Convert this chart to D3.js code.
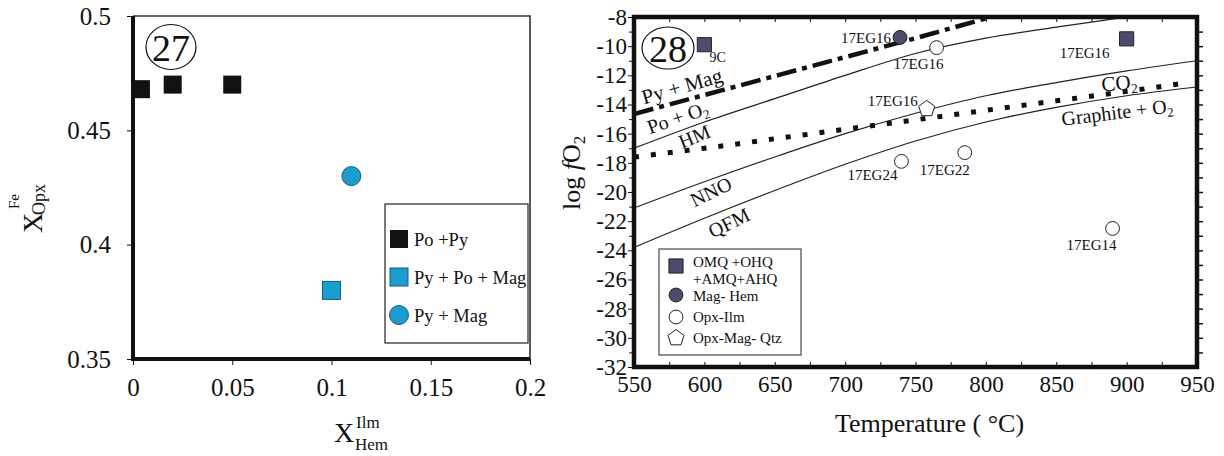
<!DOCTYPE html>
<html>
<head>
<meta charset="utf-8">
<script src="https://cdn.jsdelivr.net/npm/d3@7"></script>
<style>
body { margin: 0; background: #fff; }
</style>
</head>
<body>
<svg id="chart" width="1224" height="456"></svg>
<script>
/* ---- panel 27 data ---- */
var LEFT_X_TICKS = [0, 0.05, 0.1, 0.15, 0.2];
var LEFT_Y_TICKS = [0.35, 0.4, 0.45, 0.5];
var POPY_X = [0.004, 0.02, 0.05];
var POPY_Y = [0.468, 0.47, 0.47];
var PYPOMAG_X = [0.1];
var PYPOMAG_Y = [0.38];
var PYMAG_X = [0.11];
var PYMAG_Y = [0.43];
var LEFT_LEGEND = ["Po +Py", "Py + Po + Mag", "Py + Mag"];

/* ---- panel 28 data ---- */
var TEMP_TICKS = [550, 600, 650, 700, 750, 800, 850, 900, 950];
var LOGF_TICKS = [-32, -30, -28, -26, -24, -22, -20, -18, -16, -14, -12, -10, -8];
var BUFFER_T = [550, 600, 650, 700, 750, 800, 850, 900, 950];
var HM_LOG = [-17.0, -15.2, -13.6, -12.0, -10.5, -9.45, -8.7, -8.0, -7.3];
var NNO_LOG = [-21.1, -19.3, -17.6, -16.0, -14.6, -13.4, -12.5, -11.7, -11.0];
var QFM_LOG = [-23.8, -21.8, -19.9, -18.1, -16.5, -15.2, -14.2, -13.4, -12.8];
var GRAPHITE_T = [550, 600, 650, 700, 750, 800, 850, 900, 940];
var GRAPHITE_LOG = [-17.6, -17.0, -16.35, -15.7, -15.05, -14.4, -13.75, -13.1, -12.55];
var PYMAG_T = [550, 600, 650, 700, 750, 800, 850];
var PYMAG_LOG = [-14.65, -13.35, -12.05, -10.75, -9.45, -8.1, -6.8];

var SAMPLE_NAMES = ["9C", "17EG16", "17EG16", "17EG16", "17EG16", "17EG24", "17EG22", "17EG14"];
var SAMPLE_TYPES = ["omq", "omq", "maghem", "opxilm", "opxmagqtz", "opxilm", "opxilm", "opxilm"];
var SAMPLE_T = [600, 900, 739, 765, 758, 740, 785, 890];
var SAMPLE_LOG = [-9.9, -9.5, -9.4, -10.1, -14.3, -17.9, -17.3, -22.5];
var RIGHT_LEGEND = [["OMQ +OHQ", "+AMQ+AHQ"], ["Mag- Hem"], ["Opx-Ilm"], ["Opx-Mag- Qtz"]];

var SERIF = "Liberation Serif";
var CYAN = "#1b9dd0", CYAN_EDGE = "#1d5a78", SLATE = "#4c4c6c";

var svg = d3.select("#chart");

/* pentagon symbol, d3 has none */
var symbolPentagon = {
    draw: function(context, size){
        var r = Math.sqrt(size / 2.378);
        for (var i = 0; i < 5; i++){
            var a = -Math.PI/2 + i*2*Math.PI/5;
            if (i === 0) context.moveTo(r*Math.cos(a), r*Math.sin(a));
            else context.lineTo(r*Math.cos(a), r*Math.sin(a));
        }
        context.closePath();
    }
};

/* d3 axes put sans-serif on the group, take it off */
function serifTicks(sel, size){
    sel.attr("font-family", null).attr("font-size", null);
    sel.selectAll("text").style("font-family", SERIF).style("font-size", size + "px").attr("fill", "#111");
    sel.selectAll("line").attr("stroke", "#111");
}

function drawLeftPanel(){
    var x = d3.scaleLinear().domain([0, 0.2]).range([133, 530]);
    var y = d3.scaleLinear().domain([0.35, 0.5]).range([359, 16]);
    var g = svg.append("g");

    g.append("g")
        .attr("transform", "translate(0,359)")
        .call(d3.axisBottom(x).tickValues(LEFT_X_TICKS).tickSize(6).tickPadding(13).tickFormat(function(d){ return d + ""; }))
        .call(function(a){ a.select(".domain").remove(); })
        .call(serifTicks, 25);

    g.append("g")
        .attr("transform", "translate(133,0)")
        .call(d3.axisLeft(y).tickValues(LEFT_Y_TICKS).tickSize(6).tickPadding(16).tickFormat(function(d){ return d + ""; }))
        .call(function(a){ a.select(".domain").remove(); })
        .call(serifTicks, 25);

    /* frame: thin top/right, heavy left/bottom */
    g.append("path").attr("d", "M133,16H530V359").attr("fill", "none").attr("stroke", "#333").attr("stroke-width", 1.6);
    g.append("path").attr("d", "M133,16V361M131,359H530").attr("fill", "none").attr("stroke", "#111").attr("stroke-width", 4);

    /* panel number */
    g.append("ellipse").attr("cx", 171).attr("cy", 47).attr("rx", 25).attr("ry", 22.5)
        .attr("fill", "none").attr("stroke", "#111").attr("stroke-width", 1.2);
    g.append("text").attr("x", 171).attr("y", 61).attr("text-anchor", "middle")
        .style("font-size", "38px").text("27");

    /* markers */
    var popy = POPY_X.map(function(v, i){ return {x: v, y: POPY_Y[i]}; });
    g.selectAll(".popy").data(popy).enter().append("rect")
        .attr("x", function(d){ return x(d.x) - 9; })
        .attr("y", function(d){ return y(d.y) - 9; })
        .attr("width", 18).attr("height", 18).attr("fill", "#111");

    var pypomag = PYPOMAG_X.map(function(v, i){ return {x: v, y: PYPOMAG_Y[i]}; });
    g.selectAll(".pypomag").data(pypomag).enter().append("rect")
        .attr("x", function(d){ return x(d.x) - 9; })
        .attr("y", function(d){ return y(d.y) - 9; })
        .attr("width", 18).attr("height", 18)
        .attr("fill", CYAN).attr("stroke", CYAN_EDGE).attr("stroke-width", 1);

    var pymag = PYMAG_X.map(function(v, i){ return {x: v, y: PYMAG_Y[i]}; });
    g.selectAll(".pymag").data(pymag).enter().append("circle")
        .attr("cx", function(d){ return x(d.x); })
        .attr("cy", function(d){ return y(d.y); })
        .attr("r", 9.5)
        .attr("fill", CYAN).attr("stroke", CYAN_EDGE).attr("stroke-width", 1);

    /* legend */
    var lg = g.append("g");
    lg.append("rect").attr("x", 385).attr("y", 204).attr("width", 143).attr("height", 139)
        .attr("fill", "#fff").attr("stroke", "#333").attr("stroke-width", 1.3);
    LEFT_LEGEND.forEach(function(label, i){
        var cy = 239 + i*38;
        if (i < 2){
            lg.append("rect").attr("x", 390).attr("y", cy - 9).attr("width", 18).attr("height", 18)
                .attr("fill", i === 0 ? "#111" : CYAN)
                .attr("stroke", i === 0 ? "none" : CYAN_EDGE);
        } else {
            lg.append("circle").attr("cx", 399).attr("cy", cy).attr("r", 9.5)
                .attr("fill", CYAN).attr("stroke", CYAN_EDGE);
        }
        lg.append("text").attr("x", 414).attr("y", cy + 6.5)
            .style("font-size", "18.5px").text(label);
    });

    /* axis titles */
    var xt = g.append("text").attr("x", 334).attr("y", 442).style("font-size", "28px");
    xt.append("tspan").text("X");
    xt.append("tspan").attr("x", 356).attr("y", 428).style("font-size", "17px").text("Ilm");
    xt.append("tspan").attr("x", 355).attr("y", 450).style("font-size", "17px").text("Hem");

    var yt = g.append("text").attr("transform", "translate(42,233) rotate(-90)").style("font-size", "28px");
    yt.append("tspan").attr("x", 0).attr("y", 0).text("X");
    yt.append("tspan").attr("x", 24).attr("y", -23).style("font-size", "15px").text("Fe");
    yt.append("tspan").attr("x", 18).attr("y", 3).style("font-size", "18px").text("Opx");
}

function drawRightPanel(){
    var x = d3.scaleLinear().domain([550, 950]).range([634, 1197]);
    var y = d3.scaleLinear().domain([-32, -8]).range([367, 17]);
    var g = svg.append("g");

    g.append("clipPath").attr("id", "plotclip")
        .append("rect").attr("x", 634).attr("y", 17).attr("width", 563).attr("height", 350);

    /* left axis: labelled majors + minor ticks */
    g.append("g")
        .attr("transform", "translate(634,0)")
        .call(d3.axisLeft(y).tickValues(LOGF_TICKS).tickSize(6).tickPadding(1).tickFormat(function(d){ return d + ""; }))
        .call(function(a){ a.select(".domain").remove(); })
        .call(serifTicks, 23);
    g.append("g")
        .attr("transform", "translate(634,0)")
        .call(d3.axisLeft(y).tickValues(d3.range(-31, -8, 2)).tickSize(5).tickFormat(""))
        .call(function(a){ a.select(".domain").remove(); })
        .call(serifTicks, 23);

    /* right axis: outward ticks every unit */
    g.append("g")
        .attr("transform", "translate(1197,0)")
        .call(d3.axisRight(y).tickValues(d3.range(-31, -8, 1)).tickSize(6).tickFormat(""))
        .call(function(a){ a.select(".domain").remove(); })
        .call(serifTicks, 23)
        .selectAll("line").attr("stroke-width", 1.5);

    /* bottom / top: inward ticks every 25 */
    g.append("g")
        .attr("transform", "translate(0,367)")
        .call(d3.axisBottom(x).tickValues(d3.range(550, 951, 25)).tickSizeInner(-5).tickSizeOuter(0).tickPadding(9)
            .tickFormat(function(d){ return TEMP_TICKS.indexOf(d) >= 0 ? d : ""; }))
        .call(function(a){ a.select(".domain").remove(); })
        .call(serifTicks, 23);
    g.append("g")
        .attr("transform", "translate(0,17)")
        .call(d3.axisTop(x).tickValues(d3.range(575, 950, 25)).tickSizeInner(-5).tickSizeOuter(0).tickFormat(""))
        .call(function(a){ a.select(".domain").remove(); })
        .call(serifTicks, 23);

    /* buffer curves */
    var plot = g.append("g").attr("clip-path", "url(#plotclip)");
    function curve(ts, vs){
        return d3.line().curve(d3.curveMonotoneX)
            .x(function(d){ return x(d[0]); })
            .y(function(d){ return y(d[1]); })(ts.map(function(t, i){ return [t, vs[i]]; }));
    }
    [HM_LOG, NNO_LOG, QFM_LOG].forEach(function(vals){
        plot.append("path").attr("d", curve(BUFFER_T, vals))
            .attr("fill", "none").attr("stroke", "#222").attr("stroke-width", 1.2);
    });
    plot.append("path").attr("d", curve(GRAPHITE_T, GRAPHITE_LOG))
        .attr("fill", "none").attr("stroke", "#111").attr("stroke-width", 5)
        .attr("stroke-dasharray", "5,12");
    plot.append("path").attr("d", curve(PYMAG_T, PYMAG_LOG))
        .attr("fill", "none").attr("stroke", "#111").attr("stroke-width", 4.5)
        .attr("stroke-dasharray", "20,6,5,6");

    /* curve labels */
    function label(txt, cx, cy, angle, size, sub){
        var t = g.append("text").attr("transform", "translate(" + cx + "," + cy + ") rotate(" + angle + ")")
            .attr("text-anchor", "middle").style("font-size", size + "px");
        t.append("tspan").text(txt);
        if (sub) t.append("tspan").attr("dy", size*0.2).style("font-size", (size*0.65) + "px").text(sub);
    }
    label("Py + Mag", 684, 93, -16, 21);
    label("Po + O", 680, 124, -19, 20, "2");
    label("HM", 697, 143, -22, 20);
    label("NNO", 714, 198, -26, 20);
    label("QFM", 732, 229, -26, 20);
    label("CO", 1120, 90, -5, 21, "2");
    label("Graphite + O", 1118, 119, -7, 20, "2");

    /* samples */
    var samples = SAMPLE_NAMES.map(function(n, i){
        return {name: n, type: SAMPLE_TYPES[i], t: SAMPLE_T[i], v: SAMPLE_LOG[i]};
    });
    var sym = {
        omq: d3.symbol(d3.symbolSquare, 200),
        maghem: d3.symbol(d3.symbolCircle, 150),
        opxilm: d3.symbol(d3.symbolCircle, 150),
        opxmagqtz: d3.symbol(symbolPentagon, 170)
    };
    var fills = {omq: SLATE, maghem: SLATE, opxilm: "#fff", opxmagqtz: "#fff"};
    g.selectAll(".sample").data(samples).enter().append("path")
        .attr("transform", function(d){ return "translate(" + x(d.t) + "," + y(d.v) + ")"; })
        .attr("d", function(d){ return sym[d.type](); })
        .attr("fill", function(d){ return fills[d.type]; })
        .attr("stroke", "#222").attr("stroke-width", 1);

    /* sample label placement (dx, dy, anchor, size) */
    var labelPos = [
        [5, 17, "start", 14],
        [-17, 19, "end", 15],
        [-9, 6, "end", 15],
        [-18, 21, "middle", 15],
        [-9, -3, "end", 15],
        [-4, 19, "end", 15],
        [5, 22, "end", 15],
        [4, 22, "end", 15]
    ];
    g.selectAll(".samplelabel").data(samples).enter().append("text")
        .attr("x", function(d, i){ return x(d.t) + labelPos[i][0]; })
        .attr("y", function(d, i){ return y(d.v) + labelPos[i][1]; })
        .attr("text-anchor", function(d, i){ return labelPos[i][2]; })
        .style("font-size", function(d, i){ return labelPos[i][3] + "px"; })
        .text(function(d){ return d.name; });

    /* frame */
    g.append("rect").attr("x", 634).attr("y", 17).attr("width", 563).attr("height", 350)
        .attr("fill", "none").attr("stroke", "#111").attr("stroke-width", 4.5);

    /* panel number */
    g.append("ellipse").attr("cx", 668).attr("cy", 48).attr("rx", 26).attr("ry", 21)
        .attr("fill", "#fff").attr("stroke", "#111").attr("stroke-width", 1.2);
    g.append("text").attr("x", 668).attr("y", 62).attr("text-anchor", "middle")
        .style("font-size", "38px").text("28");

    /* legend */
    var lg = g.append("g");
    lg.append("rect").attr("x", 659).attr("y", 249).attr("width", 142).attr("height", 106)
        .attr("fill", "#fff").attr("stroke", "#555").attr("stroke-width", 1.3);
    var legendTypes = ["omq", "maghem", "opxilm", "opxmagqtz"];
    var rowY = [[262, 279], [296], [317], [338]];
    var symY = [266, 295, 317, 338];
    legendTypes.forEach(function(type, i){
        lg.append("path").attr("transform", "translate(676," + symY[i] + ")")
            .attr("d", sym[type]()).attr("fill", fills[type]).attr("stroke", "#222");
        RIGHT_LEGEND[i].forEach(function(line, j){
            lg.append("text").attr("x", 693).attr("y", rowY[i][j] + 5)
                .style("font-size", "15px").text(line);
        });
    });

    /* axis titles */
    svg.append("text").attr("x", 835).attr("y", 432).style("font-size", "26px").text("Temperature ( °C)");
    var yt = svg.append("text").attr("transform", "translate(580,210) rotate(-90)").style("font-size", "26px");
    yt.append("tspan").text("log ");
    yt.append("tspan").style("font-style", "italic").text("f");
    yt.append("tspan").text("O");
    yt.append("tspan").attr("dy", 5).style("font-size", "17px").text("2");
}

drawLeftPanel();
drawRightPanel();

/* one serif face for every label */
svg.selectAll("text").style("font-family", SERIF).style("fill", "#111");
</script>
</body>
</html>
